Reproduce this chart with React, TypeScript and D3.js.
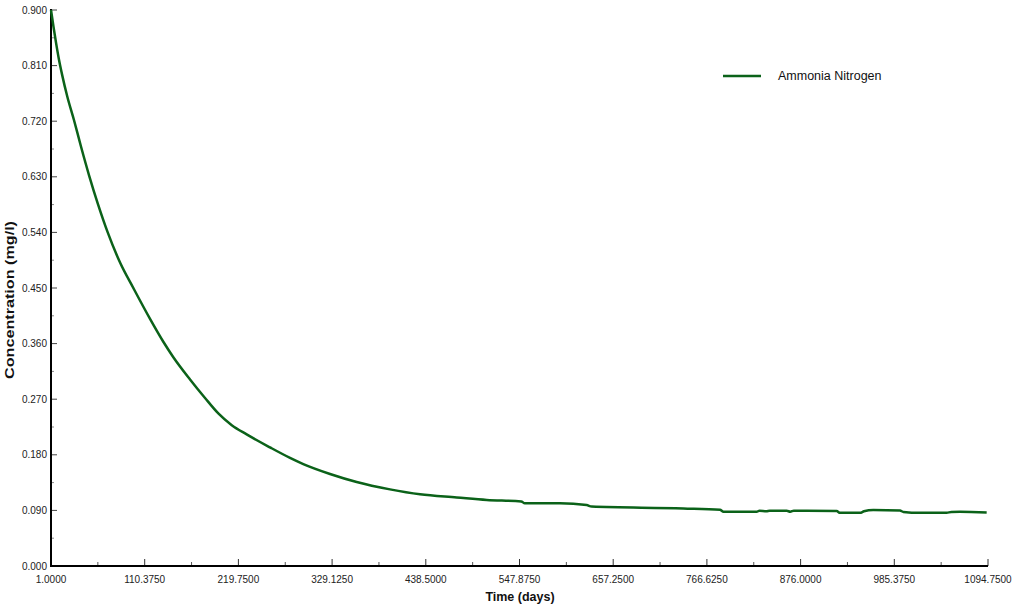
import React from "react";
import * as d3 from "d3";

const days = [1, 4, 7, 10, 14, 20, 27.8, 36, 45.5, 56, 67.2, 82, 97.1, 116.6, 132.1, 143.8, 163.3, 180.8, 196.3, 212, 229.4, 256.6, 280, 295.5, 326.7, 357.8, 396.7, 431.7, 474.6, 509.6, 550, 554, 595.1, 626.3, 632, 739.1, 781.9, 786, 824.7, 828, 836, 840, 844.1, 859.8, 864, 868, 883.1, 918.1, 922, 945.3, 950, 960.8, 992, 996, 1015.3, 1046.5, 1052, 1062, 1093.2];
const ammonia = [0.9, 0.872, 0.846, 0.822, 0.795, 0.76, 0.722, 0.679, 0.632, 0.585, 0.54, 0.49, 0.45, 0.4, 0.363, 0.338, 0.302, 0.272, 0.247, 0.228, 0.213, 0.192, 0.175, 0.165, 0.149, 0.136, 0.124, 0.116, 0.111, 0.107, 0.1045, 0.1015, 0.1015, 0.0986, 0.0962, 0.0932, 0.091, 0.0877, 0.0877, 0.0895, 0.0885, 0.0895, 0.0895, 0.0895, 0.0878, 0.0895, 0.0895, 0.089, 0.086, 0.086, 0.0885, 0.0905, 0.0898, 0.0875, 0.086, 0.0862, 0.0875, 0.0877, 0.0867];

const xTicks = [1, 110.375, 219.75, 329.125, 438.5, 547.875, 657.25, 766.625, 876, 985.375, 1094.75];
const yTicks = [0, 0.09, 0.18, 0.27, 0.36, 0.45, 0.54, 0.63, 0.72, 0.81, 0.9];
const seriesName = "Ammonia Nitrogen";
const xTitle = "Time (days)";
const yTitle = "Concentration (mg/l)";

const W = 1017;
const H = 609;
const left = 51;
const right = 988;
const top = 10;
const bottom = 566;
const font = "'Liberation Sans', Arial, sans-serif";
const lineColor = "#0b6219";

export default function App() {
  const x = d3.scaleLinear().domain([1, 1094.75]).range([left, right]);
  const y = d3.scaleLinear().domain([0, 0.9]).range([bottom, top]);
  const pts = days.map((d, i) => [d, ammonia[i]] as [number, number]);
  const line = d3
    .line<[number, number]>()
    .x((d) => x(d[0]))
    .y((d) => y(d[1]))
    .curve(d3.curveMonotoneX);

  const xMinor = xTicks.slice(0, -1).map((t, i) => (t + xTicks[i + 1]) / 2);
  const yMinor = yTicks.slice(0, -1).map((t, i) => (t + yTicks[i + 1]) / 2);

  return (
    <svg
      width={W}
      height={H}
      style={{ position: "absolute", left: 0, top: 0, background: "#fff" }}
    >
      <rect x={0} y={0} width={W} height={H} fill="#fff" />
      {xTicks.map((t, i) => (
        <g key={"xt" + i}>
          <line x1={x(t)} x2={x(t)} y1={bottom} y2={bottom - 7} stroke="#333" strokeWidth={1} />
          <text x={x(t)} y={583} textAnchor="middle" fontSize={10} fontFamily={font} fill="#222">
            {t.toFixed(4)}
          </text>
        </g>
      ))}
      {xMinor.map((t, i) => (
        <line key={"xm" + i} x1={x(t)} x2={x(t)} y1={bottom} y2={bottom - 4} stroke="#555" strokeWidth={1} />
      ))}
      {yTicks.map((t, i) => (
        <g key={"yt" + i}>
          <line x1={left} x2={left + 6} y1={y(t)} y2={y(t)} stroke="#444" strokeWidth={1} />
          <text x={47} y={y(t)} dy="0.35em" textAnchor="end" fontSize={10} fontFamily={font} fill="#222">
            {t.toFixed(3)}
          </text>
        </g>
      ))}
      {yMinor.map((t, i) => (
        <line key={"ym" + i} x1={left} x2={left + 3} y1={y(t)} y2={y(t)} stroke="#888" strokeWidth={1} />
      ))}
      <line x1={left} x2={left} y1={top - 1} y2={bottom + 1} stroke="#000" strokeWidth={2} />
      <line x1={left - 1} x2={right} y1={bottom} y2={bottom} stroke="#000" strokeWidth={2} />
      <path d={line(pts) || ""} fill="none" stroke={lineColor} strokeWidth={2.5} strokeLinejoin="round" />
      <line x1={723} x2={761} y1={76} y2={76} stroke={lineColor} strokeWidth={2.5} />
      <text x={778} y={76} dy="0.35em" fontSize={12.5} fontFamily={font} fill="#111">
        {seriesName}
      </text>
      <text x={520} y={601} textAnchor="middle" fontSize={12.5} fontWeight="bold" fontFamily={font} fill="#111">
        {xTitle}
      </text>
      <text
        transform={`translate(14,${300}) rotate(-90)`}
        textAnchor="middle"
        fontSize={12.5}
        fontWeight="bold"
        fontFamily={font}
        fill="#111"
        textLength={158}
        lengthAdjust="spacingAndGlyphs"
      >
        {yTitle}
      </text>
    </svg>
  );
}
